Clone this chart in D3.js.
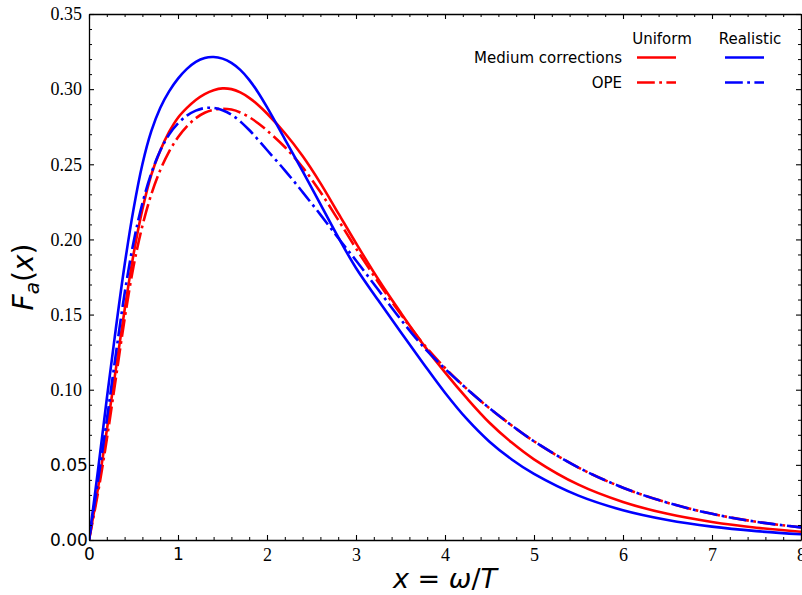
<!DOCTYPE html>
<html>
<head>
<meta charset="utf-8">
<script src="https://cdn.jsdelivr.net/npm/d3@7"></script>
<style>
  body { margin: 0; background: #fff; }
  .serif { font-family: "Liberation Serif", "DejaVu Serif", serif; }
  .sans { font-family: "DejaVu Sans", sans-serif; }
</style>
</head>
<body>
<svg id="svgElement" width="802" height="595"></svg>
<script>
// values
const xValues = [0, 0.1, 0.2, 0.3, 0.4, 0.5, 0.6, 0.7, 0.8, 0.9, 1.0, 1.1, 1.2, 1.3, 1.4, 1.5, 1.6, 1.7, 1.8, 1.9,
  2.0, 2.2, 2.4, 2.6, 2.8, 3.0, 3.25, 3.5, 3.75, 4.0, 4.25, 4.5, 4.75, 5.0, 5.5, 6.0, 6.5, 7.0, 7.5, 8.0];

const uniformMedium = [0, 0.034, 0.073, 0.113, 0.153, 0.190, 0.220, 0.243, 0.259, 0.2715, 0.281, 0.2875, 0.2928, 0.2967,
  0.2993, 0.3005, 0.3000, 0.2978, 0.2942, 0.2895, 0.2838, 0.2708, 0.2555, 0.2375, 0.2175, 0.1975, 0.1735, 0.1515, 0.1305, 0.1115,
  0.0940, 0.0780, 0.0648, 0.0537, 0.0368, 0.0253, 0.0174, 0.0120, 0.0082, 0.0055];

const realisticMedium = [0, 0.046, 0.094, 0.140, 0.183, 0.220, 0.250, 0.272, 0.2875, 0.2985, 0.307, 0.3135, 0.3182, 0.3208,
  0.3214, 0.3203, 0.3175, 0.3128, 0.3062, 0.2978, 0.2880, 0.2668, 0.2455, 0.2235, 0.2015, 0.1810, 0.1595, 0.1385, 0.1180, 0.0980,
  0.0802, 0.0654, 0.0536, 0.0440, 0.0295, 0.0198, 0.0133, 0.0089, 0.0059, 0.0038];

const uniformOPE = [0, 0.031, 0.067, 0.107, 0.147, 0.182, 0.209, 0.230, 0.246, 0.2585, 0.268, 0.2752, 0.2807, 0.2843,
  0.2863, 0.2870, 0.2864, 0.2845, 0.2814, 0.2773, 0.2725, 0.2615, 0.248, 0.2315, 0.2130, 0.1940, 0.1715, 0.1505, 0.1310, 0.1145,
  0.1003, 0.0877, 0.0762, 0.0657, 0.0482, 0.0348, 0.0248, 0.0174, 0.0121, 0.0084];

const realisticOPE = [0, 0.039, 0.080, 0.123, 0.164, 0.198, 0.224, 0.244, 0.259, 0.2698, 0.2772, 0.2824, 0.2857, 0.2874,
  0.2875, 0.2860, 0.2830, 0.2785, 0.2728, 0.2663, 0.2595, 0.2460, 0.2315, 0.2165, 0.2010, 0.1860, 0.1665, 0.1470, 0.1290, 0.1140,
  0.1003, 0.0877, 0.0762, 0.0657, 0.0482, 0.0348, 0.0248, 0.0174, 0.0121, 0.0084];

const xTicks = [0, 1, 2, 3, 4, 5, 6, 7, 8];
const yTicks = [0, 0.05, 0.1, 0.15, 0.2, 0.25, 0.3, 0.35];
const xSansTicks = [0, 1];
const ySansTicks = [0, 0.05];

const legendColumns = ["Uniform", "Realistic"];
const legendRows = ["Medium corrections", "OPE"];

const svg = d3.select("#svgElement");

const x = d3.scaleLinear().domain([0, 8]).range([89, 801]);
const y = d3.scaleLinear().domain([0, 0.35]).range([540, 14]);

const dashDot = "17.8,4.4,2.8,4.4";

svg.append("rect").attr("width", 802).attr("height", 595).attr("fill", "#fff");

// clip for curves
svg.append("clipPath").attr("id", "plotClip")
  .append("rect")
  .attr("x", x(0)).attr("y", y(0.35))
  .attr("width", x(8) - x(0)).attr("height", y(0) - y(0.35));

const series = [
  { values: uniformMedium, color: "#ff0000", dash: null },
  { values: uniformOPE, color: "#ff0000", dash: dashDot },
  { values: realisticMedium, color: "#0000ff", dash: null },
  { values: realisticOPE, color: "#0000ff", dash: dashDot }
];

const line = d3.line()
  .x((d) => x(d[0]))
  .y((d) => y(d[1]))
  .curve(d3.curveCatmullRom.alpha(0.5));

const curves = svg.append("g").attr("clip-path", "url(#plotClip)");
series.forEach((s) => {
  curves
    .append("path")
    .attr("d", line(xValues.map((v, i) => [v, s.values[i]])))
    .attr("fill", "none")
    .attr("stroke", s.color)
    .attr("stroke-width", 2.6)
    .attr("stroke-dasharray", s.dash);
});

// axes, ticks pointing inward
const minorX = d3.range(0, 8.001, 0.2).filter((v) => Math.abs(v - Math.round(v)) > 1e-6);
const minorY = d3.range(0, 0.3501, 0.01).filter((v) => Math.abs(v * 20 - Math.round(v * 20)) > 1e-6);

const styleAxis = (g) => {
  g.select(".domain").attr("stroke-width", 1.3);
  g.selectAll(".tick line").attr("stroke-width", 1.1);
};

const noDomain = (g) => {
  g.select(".domain").remove();
  g.selectAll(".tick line").attr("stroke-width", 1);
};

// bottom
svg.append("g")
  .attr("transform", `translate(0,${y(0)})`)
  .call(d3.axisBottom(x).tickValues(minorX).tickSize(-3).tickFormat(""))
  .call(noDomain);

const xBottom = svg.append("g")
  .attr("transform", `translate(0,${y(0)})`)
  .call(d3.axisBottom(x).tickValues(xTicks).tickSize(-5).tickSizeOuter(0).tickPadding(8).tickFormat(d3.format("d")))
  .call(styleAxis)
  .attr("font-family", null);

xBottom.selectAll("text")
  .attr("class", (d) => (xSansTicks.includes(d) ? "sans" : "serif"))
  .style("font-size", (d) => (xSansTicks.includes(d) ? "17px" : "18px"))
  .attr("fill", "#000");

// top
svg.append("g")
  .attr("transform", `translate(0,${y(0.35)})`)
  .call(d3.axisTop(x).tickValues(minorX).tickSize(-3).tickFormat(""))
  .call(noDomain);

svg.append("g")
  .attr("transform", `translate(0,${y(0.35)})`)
  .call(d3.axisTop(x).tickValues(xTicks).tickSize(-5).tickSizeOuter(0).tickFormat(""))
  .call(styleAxis);

// left
svg.append("g")
  .attr("transform", `translate(${x(0)},0)`)
  .call(d3.axisLeft(y).tickValues(minorY).tickSize(-3).tickFormat(""))
  .call(noDomain);

const yLeft = svg.append("g")
  .attr("transform", `translate(${x(0)},0)`)
  .call(d3.axisLeft(y).tickValues(yTicks).tickSize(-5).tickSizeOuter(0).tickPadding(7).tickFormat(d3.format(".2f")))
  .call(styleAxis)
  .attr("font-family", null);

yLeft.selectAll("text")
  .attr("class", (d) => (ySansTicks.includes(d) ? "sans" : "serif"))
  .style("font-size", (d) => (ySansTicks.includes(d) ? "17px" : "18px"))
  .attr("text-anchor", (d) => (ySansTicks.includes(d) ? "start" : "end"))
  .attr("x", (d) => (ySansTicks.includes(d) ? 50 - x(0) : -7))
  .attr("fill", "#000");

// right
svg.append("g")
  .attr("transform", `translate(${x(8)},0)`)
  .call(d3.axisRight(y).tickValues(minorY).tickSize(-3).tickFormat(""))
  .call(noDomain);

svg.append("g")
  .attr("transform", `translate(${x(8)},0)`)
  .call(d3.axisRight(y).tickValues(yTicks).tickSize(-5).tickSizeOuter(0).tickFormat(""))
  .call(styleAxis);

// axis titles
const xTitle = svg.append("text")
  .attr("class", "sans")
  .attr("x", (x(0) + x(8)) / 2)
  .attr("y", 588)
  .attr("text-anchor", "middle")
  .style("font-size", "27px");
xTitle.append("tspan").attr("font-style", "italic").text("x");
xTitle.append("tspan").text(" = ");
xTitle.append("tspan").attr("font-style", "italic").text("ω");
xTitle.append("tspan").text("/");
xTitle.append("tspan").attr("font-style", "italic").text("T");

const yTitle = svg.append("text")
  .attr("class", "sans")
  .attr("transform", `translate(33,${(y(0) + y(0.35)) / 2}) rotate(-90)`)
  .attr("text-anchor", "middle")
  .style("font-size", "28px");
yTitle.append("tspan").attr("font-style", "italic").text("F");
yTitle.append("tspan").attr("font-style", "italic").style("font-size", "20px").attr("dy", 6).text("a");
yTitle.append("tspan").attr("dy", -6).text("(");
yTitle.append("tspan").attr("font-style", "italic").text("x");
yTitle.append("tspan").text(")");

// legend laid out as a small table
const legend = svg.append("g").attr("class", "sans").style("font-size", "15px").attr("fill", "#000");
const colX = [656, 744];
const rowY = [57.5, 82.5];

legendColumns.forEach((c, i) => {
  legend.append("text")
    .attr("x", colX[i] + 6)
    .attr("y", 44)
    .attr("text-anchor", "middle")
    .text(c);
});

legendRows.forEach((r, i) => {
  legend.append("text")
    .attr("x", 622)
    .attr("y", rowY[i] + 5)
    .attr("text-anchor", "end")
    .text(r);
});

series.forEach((s) => {
  const col = s.color === "#ff0000" ? 0 : 1;
  const row = s.dash ? 1 : 0;
  legend.append("line")
    .attr("x1", colX[col] - 19)
    .attr("x2", colX[col] + 20)
    .attr("y1", rowY[row])
    .attr("y2", rowY[row])
    .attr("stroke", s.color)
    .attr("stroke-width", 2.6)
    .attr("stroke-dasharray", s.dash);
});
</script>
</body>
</html>
